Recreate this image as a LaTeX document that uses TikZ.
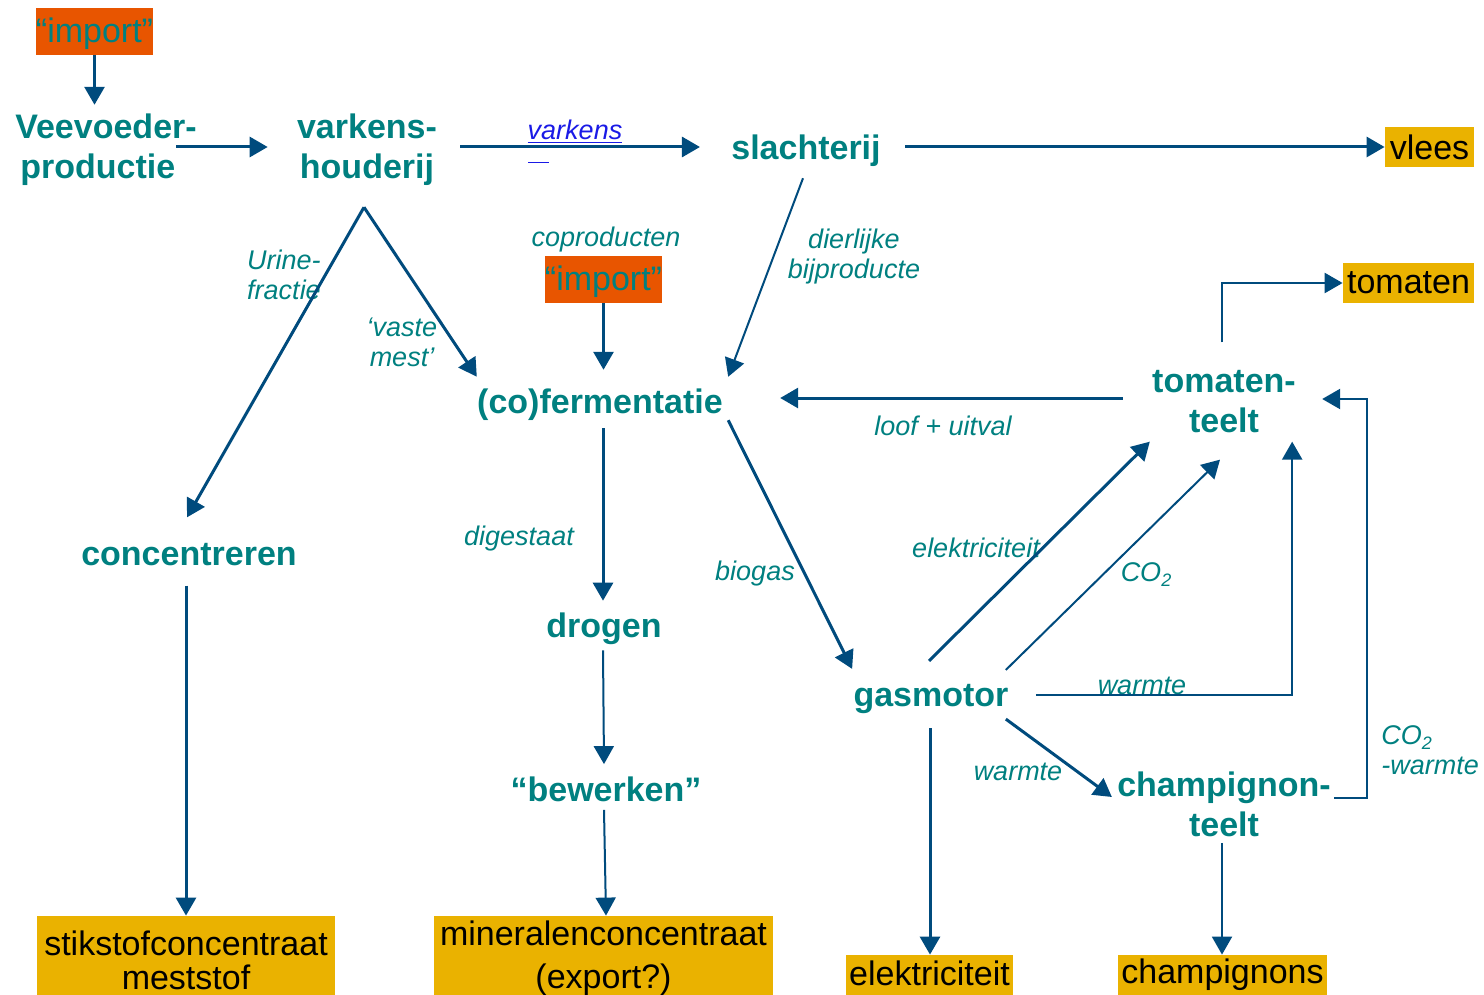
\documentclass[tikz,border=0pt]{standalone}
\usepackage{fontspec}
\setmainfont{Liberation Sans}
\usetikzlibrary{arrows.meta,calc}
\definecolor{tealc}{HTML}{008080}
\definecolor{arrc}{HTML}{004B7D}
\definecolor{orng}{HTML}{E85500}
\definecolor{goldc}{HTML}{EAB200}
\definecolor{linkb}{HTML}{1A1AE6}
\begin{document}
\begin{tikzpicture}[x=0.5pt,y=-0.5pt,
  proc/.style={font=\fontsize{17}{20}\selectfont\bfseries, text=tealc, align=center, inner sep=0pt},
  lab/.style={font=\fontsize{13.5}{15}\selectfont\itshape, text=tealc, align=center, inner sep=0pt},
  outbox/.style={fill=goldc, font=\fontsize{17}{17}\selectfont, text=black, align=center, inner sep=0pt},
  impbox/.style={fill=orng, font=\fontsize{17}{17}\selectfont, text=tealc, inner sep=0pt, text height=13pt, text depth=1.5pt, minimum width=57.5pt, minimum height=23.5pt},
  arr/.style={draw=arrc, line width=1.5pt, -{Triangle[length=9pt,width=10pt]}},
  thinarr/.style={arr, line width=1pt}
]
\useasboundingbox (0,0) rectangle (1484,995);

% nodes
\node[impbox] (imp1) at (94.5,31.5) {“import”};
\node[proc, align=left] (veev) at (106,150) {Veevoeder-\\\hspace*{2.5pt}productie};
\node[proc] (vark) at (367,150) {varkens-\\houderij};
\node[proc] (slacht) at (806,151) {slachterij};
\node[outbox, minimum width=44.5pt, minimum height=20pt] (vlees) at (1429.5,147) {vlees};
\node[outbox, minimum width=65.5pt, minimum height=20pt] (tom) at (1408.5,283) {tomaten};
\node[proc] (tomt) at (1224,402) {tomaten-\\teelt};
\node[impbox] (imp2) at (603.5,279) {“import”};
\node[proc] (ferm) at (600,405) {(co)fermentatie};
\node[proc] (conc) at (189,555) {concentreren};
\node[proc] (drog) at (604,629) {drogen};
\node[proc] (bew) at (606,789) {“bewerken”};
\node[proc] (gasm) at (931,699) {gasmotor};
\node[proc] (champ) at (1224,804) {champignon-\\teelt};
\node[outbox, minimum width=149pt, minimum height=44pt] (stik) at (186,960) {stikstofconcentraat\\meststof};
\node[outbox, minimum width=169.5pt, minimum height=42.5pt, font=\fontsize{17}{21.5}\selectfont] (mine) at (603.5,958.5) {mineralenconcentraat\\(export?)};
\node[outbox, minimum width=83.5pt, minimum height=20pt] (elek) at (929.5,975) {\raisebox{1.5pt}{elektriciteit}};
\node[outbox, minimum width=104.5pt, minimum height=20pt] (champs) at (1222.5,975) {champignons};

% labels
\node[lab, text=linkb] (lvark) at (575,132) {\underline{varkens}};
\node[lab] (lcopr) at (606,240) {coproducten};
\node[lab] (ldier) at (854,257) {dierlijke\\bijproducte};
\node[lab] (lurine) at (284,275) {Urine-\\fractie};
\node[lab] (lvaste) at (402,342) {‘vaste\\mest’};
\node[lab] (lloof) at (943,426) {loof + uitval};
\node[lab] (ldig) at (519,539) {digestaat};
\node[lab] (lbio) at (755,574) {biogas};
\node[lab] (lelek) at (976,548) {elektriciteit};
\node[lab] (lco) at (1146,575) {CO\raisebox{-0.35ex}{\fontsize{9}{9}\selectfont 2}};
\node[lab] (lwarm) at (1142,686) {warmte};
\node[lab] (lwarm2) at (1018,772) {warmte};
\node[lab, align=left, anchor=west] (lcow) at (1381,750) {CO\raisebox{-0.35ex}{\fontsize{9}{9}\selectfont 2}\\-warmte};

% connectors
\draw[arr, shorten >=4.5pt] (imp1.south) -- (imp1.south |- veev.north);
\draw[arr] ($(veev.east)+(-21,-3)$) -- ($(vark.west)+(-29,-3)$);
\draw[arr] ($(vark.east)+(23,-3)$) -- ($(vark.east -| slacht.west)+(-31,-3)$);
\draw[draw=linkb, line width=0.6pt] ($(lvark.south west)+(1,18)$) -- ++(21,0);
\draw[arr] ($(slacht.east)+(24,-4)$) -- ($(slacht.east -| vlees.west)+(0,-4)$);
\draw[thinarr] ($(slacht.south)+(-3,11)$) -- ($(ferm.north east)+(5,-12)$);
\coordinate (apex) at ($(vark.south)+(-3,21)$);
\draw[arr] (apex) -- ($(conc.north)+(-2,-26)$);
\draw[arr] (apex) -- ($(ferm.north west)+(0,-12)$);
\draw[arr] (imp2.south) -- ($(imp2.south |- ferm.north)+(0,-19)$);
\draw[arr] ($(tomt.west)+(-29,-4)$) -- ($(tomt.west -| ferm.east)+(57,-4)$);
\draw[arr, line width=1.2pt] ($(tomt.north)+(-2,-28)$) |- (tom.west);
\draw[arr] ($(ferm.south)+(3,7)$) -- ($(drog.north)+(-1,-12)$);
\draw[arr] ($(ferm.south east)+(5,-1)$) -- ($(gasm.north west)+(-1,-15)$);
\draw[arr, line width=1pt] ($(drog.south)+(-1,5)$) -- ($(bew.north)+(-2,-12)$);
\draw[arr, line width=1pt] ($(bew.south)+(-2,8)$) -- (bew.south |- mine.north);
\draw[arr] ($(conc.south)+(-3,19)$) -- ($(conc.south |- stik.north)+(-3,0)$);
\draw[arr] ($(gasm.north)+(-2,-23)$) -- ($(tomt.south west)+(-2,8)$);
\draw[thinarr] ($(gasm.north east)+(-3,-14)$) -- ($(tomt.south)+(-4,26)$);
\draw[arr, line width=1.2pt] ($(gasm.east)+(27,-4)$) -| ($(tomt.south east)+(-4,8)$);
\draw[arr] ($(gasm.south east)+(-3,5)$) -- ($(champ.west)+(-5,-7)$);
\draw[arr] ($(gasm.south)+(-1,14)$) -- ($(gasm.south |- elek.north)+(-1,0)$);
\draw[arr, line width=1.2pt] ($(champ.east)+(3,-6)$) -- ++(33,0) |- ($(tomt.east)+(26,-3)$);
\draw[thinarr] ($(champ.south)+(-2,6)$) -- ($(champ.south |- champs.north)+(-2,0)$);
\end{tikzpicture}
\end{document}
